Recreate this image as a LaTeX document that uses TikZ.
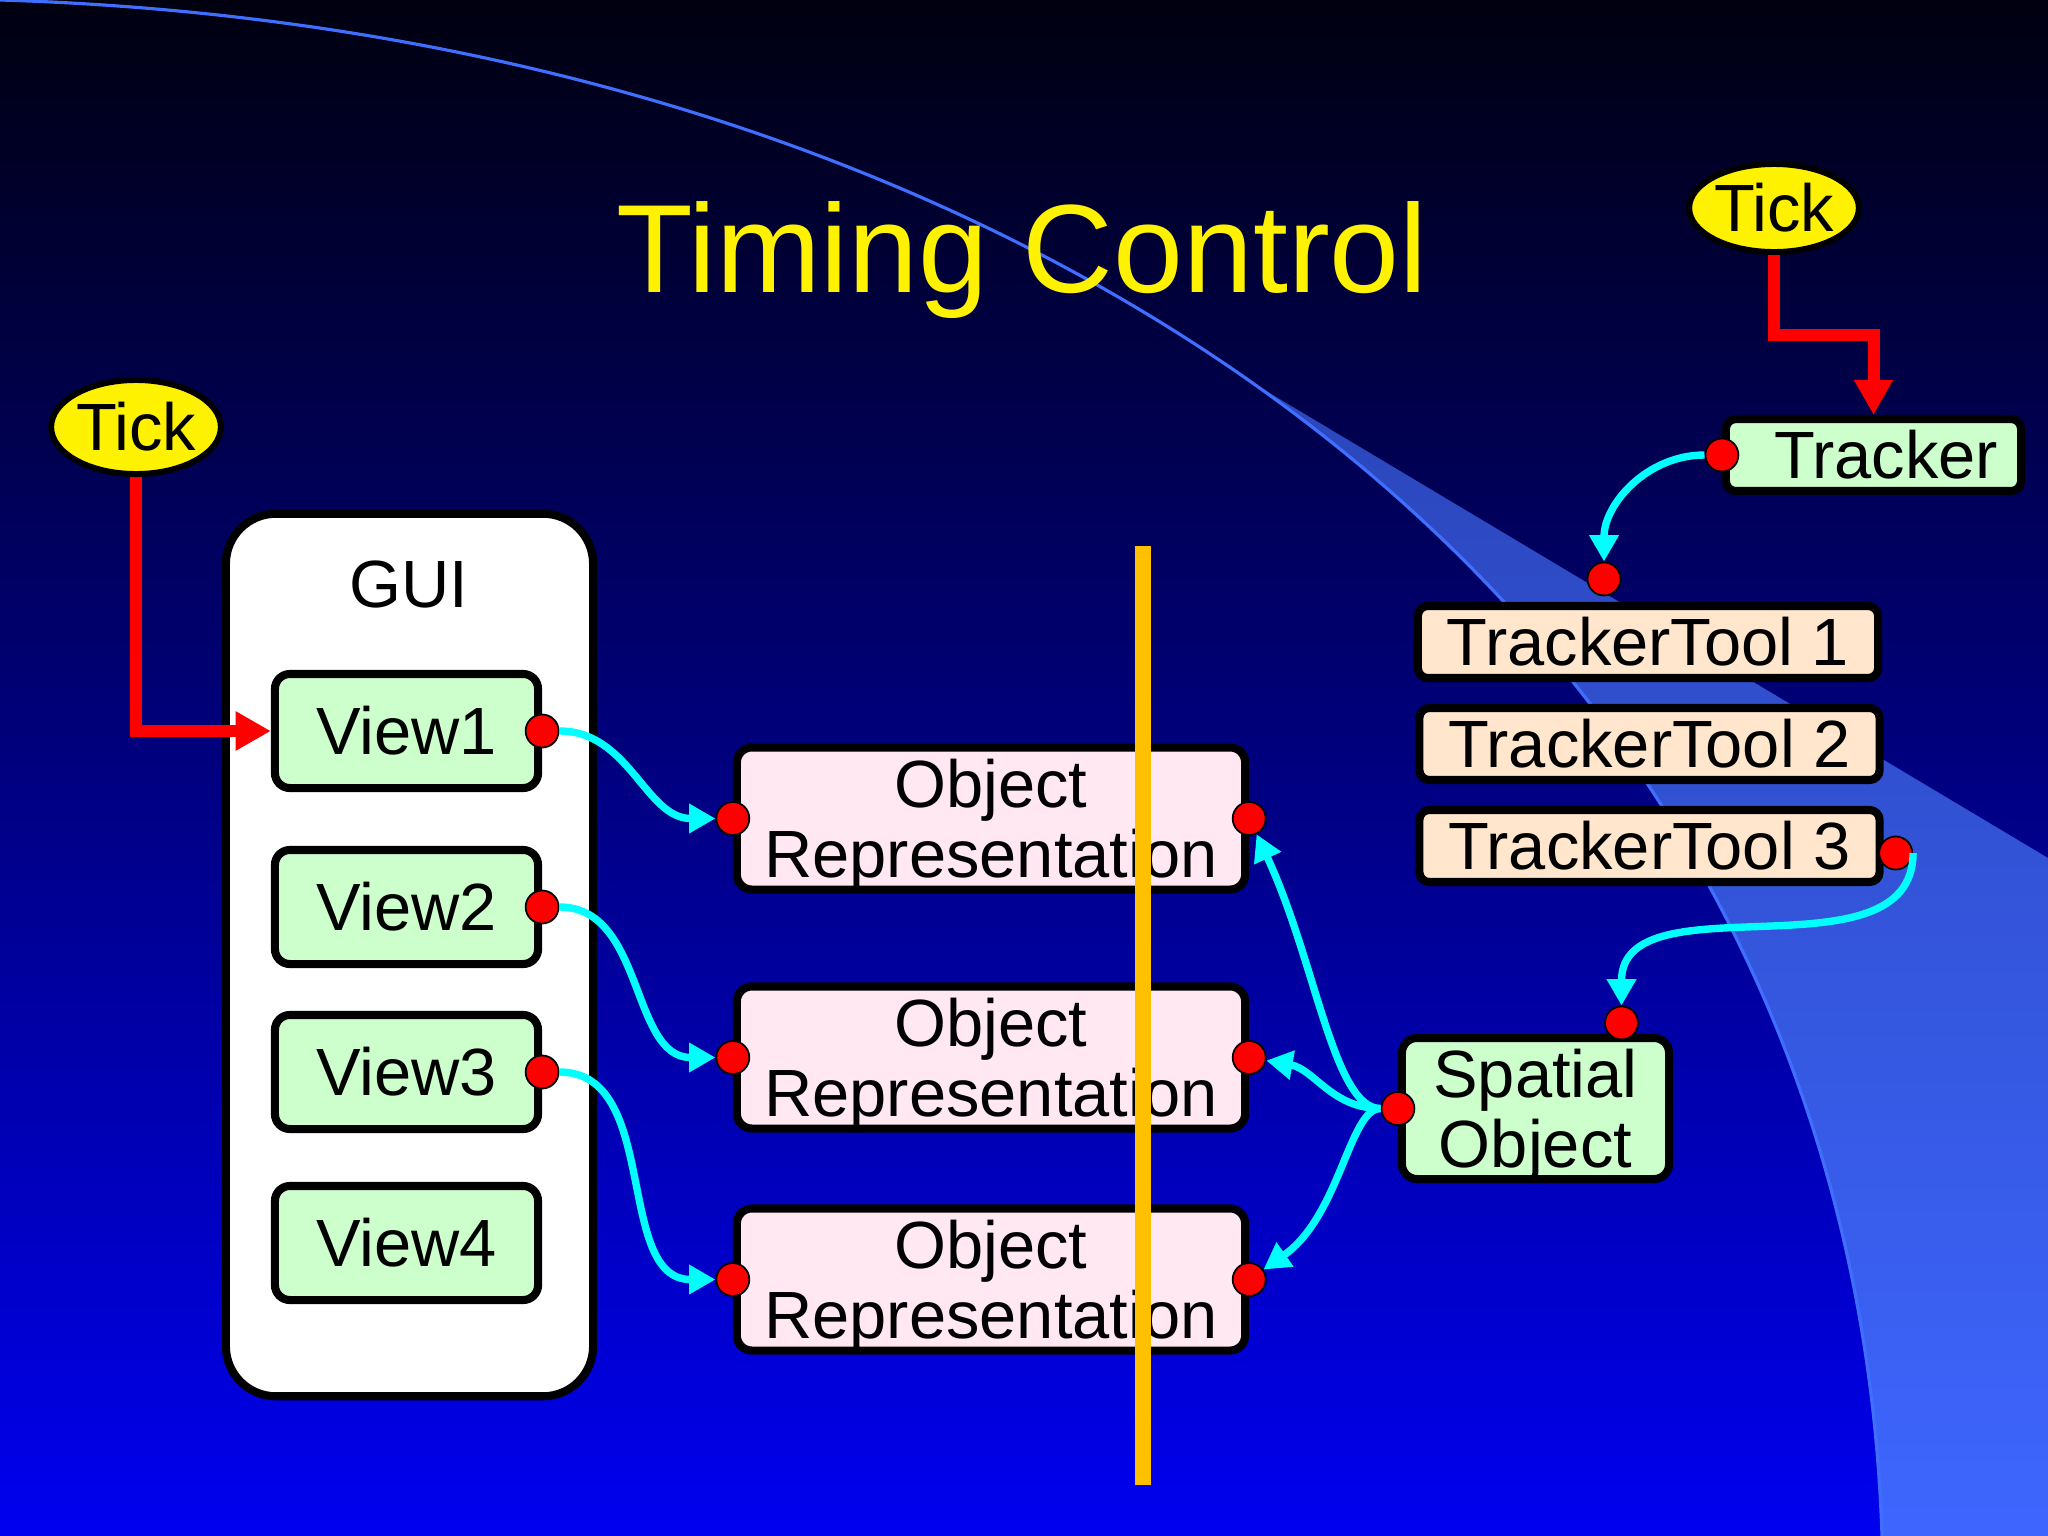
\documentclass[tikz,border=0pt]{standalone}
\usepackage{fontspec}
\setmainfont{Liberation Sans}
\usetikzlibrary{arrows.meta,calc,shapes.geometric}
\definecolor{viewgreen}{RGB}{204,255,204}
\definecolor{reppink}{RGB}{255,232,242}
\definecolor{toolpeach}{RGB}{255,230,204}
\definecolor{barorange}{RGB}{255,192,0}
\definecolor{linkcyan}{RGB}{0,255,255}
\definecolor{skytop}{RGB}{0,0,16}
\definecolor{skybottom}{RGB}{0,0,240}
\definecolor{swooshdark}{RGB}{40,66,178}
\definecolor{swooshlight}{RGB}{62,102,255}
\definecolor{arcblue}{RGB}{64,110,255}
\def\flat#1{\raisebox{0pt}[\height][0pt]{#1}}
\tikzset{
	box/.style={draw=black, line width=2.3pt, rounded corners=0.15cm, inner sep=0pt, align=center, font=\fontsize{19}{19.8}\selectfont},
	viewbox/.style={box, fill=viewgreen, minimum width=2.63cm, minimum height=1.14cm},
	repbox/.style={box, fill=reppink, minimum width=5.08cm, minimum height=1.42cm},
	toolbox/.style={box, fill=toolpeach, rounded corners=0.1cm, minimum width=4.6cm, minimum height=0.72cm},
	tickoval/.style={ellipse, draw=black, line width=1.7pt, fill=yellow, inner sep=0pt, font=\fontsize{19}{20}\selectfont},
	port/.style={circle, draw=black, line width=0.5pt, fill=red, minimum size=0.33cm, inner sep=0pt},
	clock/.style={draw=red, line width=3.4pt, -{Triangle[length=10pt, width=10.5pt]}},
	link/.style={draw=linkcyan, line width=2.1pt, -{Triangle[length=7.5pt, width=8pt]}}
}

\begin{document}
\begin{tikzpicture}[x=0.01cm, y=-0.01cm]
			%%%%% START %%%%%
			
			\useasboundingbox (0, 0) rectangle (2048, 1536);
			\shade[top color=skytop, bottom color=skybottom] (0, 0) rectangle (2048, 1536);
			
			% swoosh
			\begin{scope}
				\clip (0, 0) .. controls (1000, 30) and (1850, 580) .. (1882, 1536) -- (2048, 1536) -- (2048, 0) -- cycle;
				\shade[top color=swooshdark, bottom color=swooshlight] (1000, 232) -- (2048, 858) -- (2048, 1536) -- (1000, 1536) -- cycle;
			\end{scope}
			\draw[arcblue, line width=0.9pt] (0, 0) .. controls (1000, 30) and (1850, 580) .. (1882, 1536);
			
			\node[text=yellow, font=\fontsize{35.7}{40}\selectfont, anchor=base] (title) at (1022, 292) {Timing Control};
			
			% GUI side
			\node[box, fill=white, rounded corners=0.5cm, minimum width=3.67cm, minimum height=8.82cm] (gui) at (409.5, 955) {};
			\node[font=\fontsize{19}{20}\selectfont, anchor=base] (guititle) at (409, 607) {GUI};
			\node[viewbox] (view1) at (406.5, 731) {View1};
			\node[viewbox] (view2) at (406.5, 907) {View2};
			\node[viewbox] (view3) at (406.5, 1072) {View3};
			\node[viewbox] (view4) at (406.5, 1243) {View4};
			
			\node[repbox] (or1) at (991, 818.5) {Object\\\flat{Representation}};
			\node[repbox] (or2) at (991, 1057.5) {Object\\\flat{Representation}};
			\node[repbox] (or3) at (991, 1279.5) {Object\\\flat{Representation}};
			
			\draw[barorange, line width=4.5pt] (1143, 546) -- (1143, 1485);
			
			% tracker side
			\node[box, fill=viewgreen, minimum width=2.67cm, minimum height=1.41cm] (spatial) at (1535.5, 1108.5) {Spatial\\\flat{Object}};
			\node[box, fill=viewgreen, rounded corners=0.1cm, minimum width=2.95cm, minimum height=0.72cm] (tracker) at (1873.5, 455) {\hspace{0.25cm}Tracker};
			\node[toolbox] (tt1) at (1648, 642) {TrackerTool 1};
			\node[toolbox] (tt2) at (1649.5, 744) {TrackerTool 2};
			\node[toolbox] (tt3) at (1649.5, 846) {TrackerTool 3};
			
			\node[tickoval, minimum width=1.66cm, minimum height=0.94cm] (tick1) at (136, 427) {Tick};
			\node[tickoval, minimum width=1.56cm, minimum height=0.88cm] (tick2) at (1774, 208) {Tick};
			
			% ports
			\node[port] (v1p) at (view1.east) {};
			\node[port] (v2p) at (view2.east) {};
			\node[port] (v3p) at (view3.east) {};
			\node[port] (r1in) at (or1.west) {};
			\node[port] (r2in) at (or2.west) {};
			\node[port] (r3in) at (or3.west) {};
			\node[port] (r1out) at (or1.east) {};
			\node[port] (r2out) at (or2.east) {};
			\node[port] (r3out) at (or3.east) {};
			\node[port] (spin) at (spatial.west) {};
			\node[port] (sptop) at ($(spatial.north)+(86, -11)$) {};
			\node[port] (trp) at (tracker.west) {};
			\node[port] (t1p) at ($(tt1.north)+(-44, -23)$) {};
			\node[port] (t3p) at ($(tt3.east)+(12, 7)$) {};
			
			% ticks
			\draw[clock] (tick1.south) |- (view1.west);
			\draw[clock] (tick2.south) |- ($(tick2.south)!0.5!(tracker.north)$) -| (tracker.north);
			
			% links
			\draw[link] (v1p) to[out=0, in=180] (r1in);
			\draw[link] (v2p) to[out=0, in=180] (r2in);
			\draw[link] (v3p) to[out=0, in=180] (r3in);
			\draw[link] (spin) to[out=180, in=-65, out looseness=0.4, in looseness=1.2] (r1out);
			\draw[link] (spin) to[out=180, in=-10] (r2out);
			\draw[link] (spin) to[out=180, in=35, out looseness=0.4, in looseness=1.2] (r3out);
			\draw[link] (trp) to[out=180, in=90] (t1p);
			\draw[link] (t3p.east) to[out=-90, in=90] (sptop);
			
			%%%%% END %%%%%
\end{tikzpicture}
\end{document}
